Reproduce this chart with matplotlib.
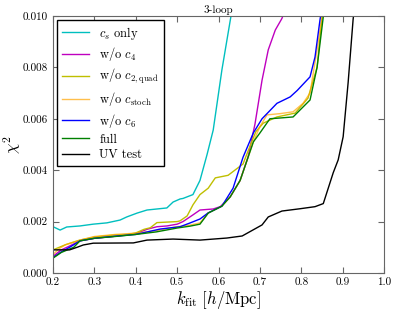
import numpy as np
import matplotlib
matplotlib.use('Agg')
import matplotlib.pyplot as plt

plt.rcParams['font.family'] = 'serif'
plt.rcParams['font.serif'] = ['cmr10']
plt.rcParams['mathtext.fontset'] = 'cm'
plt.rcParams['axes.unicode_minus'] = False
plt.rcParams['axes.formatter.use_mathtext'] = True

# c_s only
k_cs = [0.2, 0.217, 0.233, 0.265, 0.297, 0.33, 0.362, 0.378, 0.403, 0.427, 0.451, 0.475,
        0.49, 0.507, 0.514, 0.538, 0.555, 0.572, 0.587, 0.608, 0.63, 0.64]
chi_cs = [0.0018, 0.00167, 0.00179, 0.00183, 0.0019, 0.00195, 0.00206, 0.00218, 0.00233,
          0.00245, 0.00249, 0.00253, 0.00276, 0.00288, 0.0029, 0.00305, 0.0036, 0.0046,
          0.00556, 0.0079, 0.0100, 0.0112]

# w/o c4
k_c4 = [0.2, 0.22, 0.24, 0.265, 0.3, 0.35, 0.4, 0.427, 0.451, 0.475, 0.5, 0.514, 0.538,
        0.555, 0.587, 0.604, 0.628, 0.652, 0.671, 0.688, 0.705, 0.72, 0.737, 0.753, 0.76]
chi_c4 = [0.00065, 0.0009, 0.00105, 0.00125, 0.00135, 0.00143, 0.00153, 0.0017, 0.0018,
          0.00183, 0.0019, 0.002, 0.00226, 0.00245, 0.00249, 0.00258, 0.00296, 0.0036,
          0.0045, 0.0058, 0.0075, 0.00868, 0.00945, 0.0099, 0.0102]

# w/o c2,quad
k_quad = [0.2, 0.215, 0.23, 0.265, 0.3, 0.35, 0.38, 0.4, 0.42, 0.435, 0.451, 0.5, 0.507,
          0.524, 0.538, 0.555, 0.575, 0.592, 0.623, 0.659, 0.675, 0.69, 0.708, 0.741,
          0.785, 0.816, 0.838, 0.85, 0.855]
chi_quad = [0.0009, 0.001, 0.0011, 0.00128, 0.0014, 0.00148, 0.0015, 0.00156, 0.0017,
            0.00176, 0.00196, 0.002, 0.00203, 0.00222, 0.00265, 0.00305, 0.0033, 0.0037,
            0.0038, 0.00424, 0.0049, 0.0055, 0.00583, 0.00607, 0.00622, 0.0068, 0.008,
            0.00997, 0.0106]

# w/o c_stoch
k_st = [0.2, 0.215, 0.23, 0.265, 0.3, 0.35, 0.4, 0.45, 0.5, 0.53, 0.555, 0.575, 0.608,
        0.628, 0.652, 0.684, 0.7, 0.717, 0.749, 0.78, 0.804, 0.821, 0.838, 0.85, 0.855]
chi_st = [0.00072, 0.00095, 0.0011, 0.00128, 0.00142, 0.0015, 0.00155, 0.00165, 0.0018,
          0.00186, 0.00195, 0.00234, 0.0026, 0.00296, 0.0036, 0.0051, 0.0057, 0.00615,
          0.0062, 0.00627, 0.0066, 0.007, 0.0087, 0.00997, 0.0106]

# w/o c6
k_c6 = [0.2, 0.22, 0.24, 0.265, 0.3, 0.35, 0.4, 0.459, 0.507, 0.53, 0.555, 0.575, 0.608,
        0.635, 0.659, 0.684, 0.705, 0.741, 0.773, 0.79, 0.821, 0.833, 0.845, 0.852]
chi_c6 = [0.0006, 0.00082, 0.001, 0.00125, 0.00135, 0.00143, 0.0015, 0.00171, 0.0018,
          0.00194, 0.0021, 0.00234, 0.0026, 0.0033, 0.0045, 0.00545, 0.006, 0.0066,
          0.00685, 0.0071, 0.00763, 0.0084, 0.00984, 0.0106]

# full
k_full = [0.2, 0.22, 0.25, 0.265, 0.3, 0.35, 0.4, 0.45, 0.5, 0.53, 0.555, 0.575, 0.608,
          0.628, 0.652, 0.684, 0.7, 0.724, 0.749, 0.78, 0.821, 0.838, 0.853, 0.86]
chi_full = [0.00058, 0.0008, 0.001, 0.00125, 0.00135, 0.00142, 0.0015, 0.0016, 0.00175,
            0.00182, 0.0019, 0.00233, 0.0026, 0.00296, 0.0036, 0.0051, 0.00545, 0.006,
            0.00603, 0.00607, 0.00673, 0.008, 0.00997, 0.0108]

# UV test
k_uv = [0.2, 0.24, 0.258, 0.273, 0.297, 0.394, 0.427, 0.49, 0.555, 0.62, 0.657, 0.705,
        0.72, 0.753, 0.797, 0.833, 0.853, 0.877, 0.889, 0.901, 0.913, 0.925, 0.93]
chi_uv = [0.0009, 0.0009, 0.001, 0.00109, 0.00116, 0.00117, 0.00128, 0.00132, 0.00128,
          0.00136, 0.00144, 0.00187, 0.00218, 0.00241, 0.0025, 0.00258, 0.0027, 0.0039,
          0.0044, 0.0053, 0.0074, 0.00985, 0.0106]

fig = plt.figure(figsize=(3.96, 3.12), dpi=100)
ax = fig.add_axes([0.134, 0.125, 0.836, 0.824])

ax.plot(k_cs, chi_cs, color='c', lw=1, label=r'$c_s$ only')
ax.plot(k_c4, chi_c4, color='m', lw=1, label=r'w/o $c_4$')
ax.plot(k_quad, chi_quad, color='y', lw=1, label=r'w/o $c_{2,{\rm quad}}$')
ax.plot(k_st, chi_st, color='orange', lw=1, alpha=0.7, label=r'w/o $c_{\rm stoch}$')
ax.plot(k_c6, chi_c6, color='b', lw=1, label=r'w/o $c_6$')
ax.plot(k_full, chi_full, color='g', lw=1, label='full')
ax.plot(k_uv, chi_uv, color='k', lw=1, label='UV test')

ax.set_xlim(0.2, 1.0)
ax.set_ylim(0, 0.010)
ax.set_xticks(np.arange(0.2, 1.01, 0.1))
ax.set_yticks(np.arange(0, 0.0101, 0.002))
ax.xaxis.set_major_formatter(matplotlib.ticker.FormatStrFormatter('%.1f'))
ax.yaxis.set_major_formatter(matplotlib.ticker.FormatStrFormatter('%.3f'))
ax.tick_params(direction='in', top=True, right=True, labelsize=8, length=4, color='0.4')
for s in ax.spines.values():
    s.set_color('0.4')

ax.set_xlabel(r'$k_{\rm fit}\ [h/{\rm Mpc}]$', fontsize=12, labelpad=1)
ax.set_ylabel(r'$\chi^2$', fontsize=12)
ax.yaxis.set_label_coords(-0.09, 0.5)
ax.set_title('3-loop', fontsize=8, pad=2)

leg = ax.legend(loc='upper left', fontsize=9, fancybox=False, framealpha=1,
                edgecolor='k', handlelength=2.2, borderaxespad=0.3, labelspacing=0.3)
leg.get_frame().set_linewidth(1.0)

plt.savefig('out.png', dpi=100)
